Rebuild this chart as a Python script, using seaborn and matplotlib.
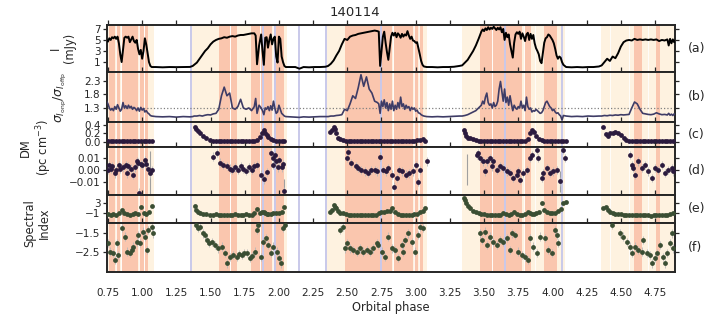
#recreating the 140114 orbital phase panel plot
#six stacked panels: flux, noise ratio, DM (wide + fine), spectral index (wide + fine)

import matplotlib
matplotlib.use("Agg")
import matplotlib.pyplot as plt
import seaborn as sns

sns.set_style("ticks")
plt.rcParams["font.family"] = ["DejaVu Sans"]

#flux + noise ratio share the same phase samples
phase = [0.74, 0.75, 0.76, 0.77, 0.78, 0.79, 0.80, 0.81, 0.82, 0.83,
         0.84, 0.85, 0.86, 0.87, 0.88, 0.89, 0.90, 0.91, 0.92, 0.93,
         0.94, 0.95, 0.96, 0.97, 0.98, 0.99, 1.00, 1.01, 1.02, 1.03,
         1.04, 1.05, 1.06, 1.07,
         1.10, 1.15, 1.20, 1.25, 1.30, 1.35,
         1.37, 1.38, 1.40, 1.42, 1.44, 1.46, 1.48, 1.50, 1.52, 1.54,
         1.56, 1.58, 1.60, 1.62, 1.64, 1.66, 1.68, 1.70, 1.72, 1.74,
         1.76, 1.78, 1.80, 1.82, 1.83, 1.84, 1.855, 1.87, 1.88, 1.89,
         1.90, 1.91, 1.92, 1.93, 1.94, 1.95, 1.96, 1.97, 1.98, 1.99,
         2.00, 2.01, 2.02, 2.03, 2.04, 2.05,
         2.08, 2.12, 2.15, 2.18, 2.22, 2.26, 2.30, 2.34,
         2.36, 2.38, 2.40, 2.42, 2.44, 2.46, 2.48, 2.50, 2.52, 2.54,
         2.56, 2.58, 2.60, 2.62, 2.64, 2.66, 2.68, 2.70, 2.72, 2.73,
         2.74, 2.75, 2.76, 2.77, 2.78, 2.79, 2.80, 2.81, 2.82, 2.83,
         2.84, 2.85, 2.86, 2.87, 2.88, 2.89, 2.90, 2.91, 2.92, 2.93,
         2.94, 2.95, 2.96, 2.97, 2.98, 2.99, 3.00, 3.01, 3.02, 3.03,
         3.04, 3.05, 3.06, 3.08,
         3.12, 3.16, 3.20, 3.24, 3.28, 3.32,
         3.34, 3.36, 3.38, 3.40, 3.42, 3.44, 3.46, 3.48, 3.49, 3.50,
         3.51, 3.52, 3.53, 3.54, 3.55, 3.56, 3.57, 3.58, 3.59, 3.60,
         3.61, 3.62, 3.63, 3.64, 3.65, 3.66, 3.67, 3.68, 3.69, 3.70,
         3.71, 3.72, 3.73, 3.74, 3.75, 3.76, 3.77, 3.78, 3.79, 3.80,
         3.81, 3.82, 3.83, 3.84, 3.85, 3.86, 3.87, 3.88, 3.89, 3.90,
         3.91, 3.92, 3.93, 3.94, 3.95, 3.96, 3.97, 3.98, 3.99, 4.00,
         4.01, 4.02, 4.03, 4.04, 4.05, 4.06, 4.07, 4.08, 4.10,
         4.14, 4.18, 4.22, 4.26, 4.30, 4.34,
         4.36, 4.38, 4.40, 4.42, 4.44, 4.46, 4.48, 4.50, 4.52, 4.54,
         4.56, 4.58, 4.60, 4.62, 4.64, 4.66, 4.68, 4.70, 4.72, 4.74,
         4.76, 4.78, 4.80, 4.82, 4.84, 4.85, 4.86, 4.87, 4.88, 4.89,
         4.90]

flux = [5.0, 4.7, 5.3, 5.0, 5.5, 5.3, 5.6, 5.2, 5.6, 4.4,
        2.4, 1.0, 3.2, 5.4, 5.6, 5.4, 5.6, 4.6, 5.1, 5.6,
        4.8, 4.5, 5.0, 3.4, 2.4, 3.2, 1.6, 3.0, 5.3, 4.2,
        2.6, 1.0, 0.3, 0.1,
        0.1, 0.05, 0.1, 0.08, 0.1, 0.12,
        0.3, 0.5, 0.9, 1.6, 2.3, 3.0, 3.5, 4.2, 4.7, 5.0,
        5.2, 5.3, 5.5, 5.4, 5.6, 5.7, 5.6, 5.8, 5.9, 5.9,
        6.0, 6.1, 6.2, 6.2, 5.8, 0.6, 4.0, 6.0, 3.0, 0.5,
        5.4, 5.5, 3.6, 5.0, 6.0, 4.2, 5.2, 5.6, 2.0, 0.9,
        5.6, 5.2, 2.0, 1.0, 0.3, 0.1,
        0.1, 0.1, -0.2, 0.1, 0.05, 0.1, 0.1, 0.15,
        0.3, 0.7, 1.3, 2.2, 3.0, 4.2, 5.2, 5.0, 5.6, 5.8,
        5.9, 6.1, 6.2, 6.3, 6.4, 6.5, 6.6, 6.7, 6.6, 6.5,
        0.3, 3.0, 5.6, 6.5, 4.5, 2.8, 1.4, 3.5, 5.6, 6.3,
        5.8, 6.3, 5.5, 6.2, 5.9, 5.4, 6.1, 5.6, 6.0, 5.8,
        6.6, 5.8, 5.2, 5.6, 4.9, 4.8, 4.5, 4.6, 3.5, 2.4,
        1.2, 0.5, 0.2, 0.1,
        0.1, 0.05, 0.1, 0.1, 0.15, 0.3,
        0.4, 0.9, 1.4, 2.2, 3.0, 4.0, 5.2, 6.5, 6.9, 6.6,
        7.1, 6.8, 7.3, 6.9, 7.2, 7.0, 7.4, 7.1, 6.8, 7.2,
        6.9, 7.3, 6.4, 7.0, 5.0, 6.3, 5.5, 6.0, 4.2, 3.0,
        1.8, 4.5, 6.0, 6.4, 6.1, 6.5, 5.2, 6.2, 5.6, 4.8,
        6.0, 6.3, 5.0, 6.1, 5.2, 5.9, 4.4, 3.5, 3.0, 2.4,
        1.2, 0.8, 2.6, 4.5, 5.3, 5.5, 6.0, 5.8, 5.4, 5.0,
        4.4, 3.4, 2.2, 1.6, 2.0, 1.8, 1.0, 0.5, 0.1,
        0.05, 0.1, 0.05, 0.1, 0.1, 0.2,
        0.4, 1.0, 1.6, 1.2, 2.0, 1.7, 2.6, 3.8, 4.6, 4.9,
        5.0, 4.9, 5.2, 5.0, 5.1, 5.0, 5.1, 5.0, 5.1, 5.0,
        5.1, 4.8, 5.0, 4.9, 5.1, 4.0, 5.2, 4.4, 5.1, 4.6,
        5.0]

noise_ratio = [1.55, 1.45, 1.30, 1.22, 1.28, 1.20, 1.35, 1.25, 1.42, 1.30,
               1.18, 1.25, 1.50, 1.30, 1.38, 1.28, 1.40, 1.30, 1.36, 1.25,
               1.32, 1.28, 1.20, 1.30, 1.18, 1.32, 1.22, 1.28, 1.15, 1.20,
               1.12, 1.08, 1.02, 1.00,
               0.98, 0.97, 0.98, 0.96, 0.98, 0.97,
               0.98, 1.00, 1.00, 1.02, 1.00, 1.03, 1.05, 1.04, 1.08, 1.10,
               1.25, 1.75, 2.07, 1.75, 1.85, 1.30, 1.25, 1.35, 1.62, 1.30,
               1.25, 1.30, 1.20, 1.35, 1.65, 1.10, 1.40, 1.30, 1.20, 1.05,
               1.30, 1.25, 1.35, 1.20, 1.38, 1.22, 1.55, 1.30, 1.10, 1.15,
               1.40, 1.25, 1.10, 1.05, 1.00, 0.98,
               0.97, 0.96, 0.95, 0.97, 0.96, 0.97, 0.98, 0.98,
               0.98, 1.00, 1.00, 1.02, 1.03, 1.05, 1.25, 1.20, 1.45, 1.75,
               1.65, 2.05, 2.53, 2.10, 2.45, 2.00, 1.85, 1.55, 1.50, 1.45,
               1.10, 1.55, 1.35, 1.60, 1.30, 1.50, 1.20, 1.45, 1.25, 1.55,
               1.20, 1.40, 1.25, 1.50, 1.30, 1.70, 1.35, 1.45, 1.25, 1.40,
               1.30, 1.35, 1.20, 1.32, 1.25, 1.30, 1.18, 1.22, 1.12, 1.10,
               1.05, 1.02, 1.00, 0.98,
               0.97, 0.98, 0.97, 0.98, 0.99, 1.00,
               1.00, 1.02, 1.05, 1.10, 1.15, 1.20, 1.30, 1.40, 1.55, 1.45,
               1.70, 1.85, 1.50, 1.40, 1.45, 1.30, 1.50, 1.35, 1.40, 1.55,
               2.00, 2.28, 1.90, 1.55, 2.00, 1.50, 1.70, 1.40, 1.75, 1.45,
               1.20, 1.40, 1.30, 1.25, 1.35, 1.30, 1.55, 1.30, 1.40, 1.20,
               1.70, 1.35, 1.25, 1.30, 1.15, 1.20, 1.18, 1.25, 1.20, 1.15,
               1.10, 1.12, 1.20, 1.35, 1.50, 1.55, 1.45, 1.35, 1.30, 1.20,
               1.25, 1.15, 1.10, 1.12, 1.05, 1.00, 0.85, 1.02, 1.00,
               0.98, 0.99, 0.98, 1.00, 0.99, 1.00,
               1.00, 1.02, 1.01, 1.03, 1.02, 1.04, 1.03, 1.05, 1.04, 1.05,
               1.06, 1.30, 1.52, 1.45, 1.25, 1.10, 1.08, 1.06, 1.05, 1.07,
               1.12, 1.08, 1.05, 1.06, 1.04, 1.10, 1.03, 1.07, 1.02, 1.08,
               1.05]

#wide-band fits (panels c and e) share phases
wide_phase = [0.75, 0.77, 0.79, 0.81, 0.83, 0.85, 0.87, 0.89, 0.91, 0.93,
              0.95, 0.97, 0.99, 1.01, 1.03, 1.05, 1.07,
              1.385, 1.395, 1.405, 1.42, 1.445, 1.47, 1.495, 1.52, 1.54, 1.56,
              1.58, 1.60, 1.62, 1.64, 1.66, 1.68, 1.70, 1.72, 1.74, 1.76,
              1.78, 1.80, 1.82, 1.84, 1.86, 1.875, 1.89, 1.90, 1.91, 1.92,
              1.94, 1.96, 1.98, 2.00, 2.02, 2.04,
              2.37, 2.385, 2.40, 2.41, 2.42, 2.435, 2.45, 2.47, 2.49,
              2.51, 2.53, 2.55, 2.57, 2.59, 2.61, 2.63, 2.65, 2.67, 2.69,
              2.71, 2.73, 2.75, 2.77, 2.79, 2.81, 2.83, 2.85, 2.87, 2.89,
              2.91, 2.93, 2.95, 2.97, 2.99, 3.01, 3.03, 3.05, 3.07,
              3.35, 3.36, 3.37, 3.385, 3.40, 3.42, 3.44, 3.46, 3.48,
              3.50, 3.52, 3.54, 3.56, 3.58, 3.60, 3.62, 3.64, 3.66, 3.68,
              3.70, 3.72, 3.74, 3.76, 3.78, 3.80, 3.82,
              3.835, 3.85, 3.865, 3.88, 3.90, 3.92,
              3.94, 3.96, 3.98, 4.00, 4.02, 4.04, 4.06, 4.08, 4.10,
              4.37, 4.39, 4.405, 4.42, 4.44, 4.46, 4.48, 4.50, 4.52, 4.54,
              4.56, 4.58, 4.60, 4.62, 4.64, 4.66, 4.68, 4.70, 4.72, 4.74,
              4.76, 4.78, 4.80, 4.82, 4.84, 4.86, 4.88]

dm_wide = [0.02, 0.01, 0.02, 0.01, 0.02, 0.01, 0.02, 0.01, 0.02, 0.01,
           0.02, 0.01, 0.02, 0.01, 0.02, 0.01, 0.02,
           0.36, 0.30, 0.26, 0.20, 0.13, 0.09, 0.05, 0.03, 0.02, 0.02,
           0.01, 0.02, 0.01, 0.02, 0.01, 0.02, 0.01, 0.02, 0.01, 0.02,
           0.01, 0.02, 0.03, 0.05, 0.12, 0.20, 0.28, 0.22, 0.16, 0.12,
           0.07, 0.04, 0.03, 0.02, 0.02, 0.02,
           0.24, 0.28, 0.36, 0.30, 0.20, 0.10, 0.07, 0.05, 0.03,
           0.02, 0.01, 0.02, 0.02, 0.01, 0.02, 0.01, 0.02, 0.02, 0.01,
           0.02, 0.01, 0.02, 0.02, 0.01, 0.02, 0.01, 0.02, 0.02, 0.01,
           0.02, 0.01, 0.02, 0.02, 0.03, 0.04, 0.05, 0.06, 0.03,
           0.28, 0.20, 0.13, 0.09, 0.10, 0.07, 0.05, 0.03, 0.02,
           0.02, 0.01, 0.02, 0.01, 0.02, 0.02, 0.01, 0.02, 0.01, 0.02,
           0.02, 0.01, 0.02, 0.01, 0.02, 0.03, 0.06,
           0.22, 0.28, 0.24, 0.13, 0.07, 0.05,
           0.03, 0.02, 0.02, 0.01, 0.02, 0.02, 0.01, 0.02, 0.02,
           0.34, 0.18, 0.15, 0.20, 0.22, 0.23, 0.21, 0.16, 0.10, 0.05,
           0.03, 0.02, 0.02, 0.01, 0.02, 0.02, 0.01, 0.02, 0.01, 0.02,
           0.02, 0.01, 0.02, 0.01, 0.02, 0.02, 0.01]

si_wide = [-1.6, -1.8, -1.5, -1.7, -1.2, 0.2, -1.0, -1.6, -1.8, -1.5,
           -1.2, -1.3, 1.5, -1.0, -1.4, -0.8, 1.9,
           1.9, 0.2, -0.7, -1.0, -1.3, -1.5, -1.7, -1.8, -1.6, -1.9,
           -1.7, -1.8, -2.0, -1.7, -1.8, -1.6, -1.9, -1.7, -1.8, -1.6,
           -1.8, -1.7, -1.2, 0.5, -1.0, -0.6, -0.8, -1.2, -1.4, -1.5,
           -1.3, -1.2, -1.0, -0.9, -0.5, 1.5,
           -0.5, 0.2, 2.2, 1.5, 0.9, -0.2, -0.9, -1.2, -1.5,
           -1.7, -1.8, -1.9, -1.8, -2.0, -1.8, -1.9, -1.7, -1.9, -1.8,
           -2.0, -1.2, -0.5, -0.8, -0.4, -0.2, 0.9, -0.6, -1.4, -1.7,
           -1.8, -1.9, -1.7, -1.8, -1.6, -1.3, -0.6, -0.2, 0.9,
           5.1, 4.2, 3.0, 1.8, 0.9, -0.2, -0.8, -1.2, -1.5,
           -1.6, -1.7, -1.8, -1.7, -1.9, -1.8, -1.7, -0.9, -1.6, -1.8,
           -1.5, -0.6, -1.6, -1.8, -1.7, -1.4, -0.6,
           -1.0, -1.4, -1.5, -1.2, -0.5, 3.1,
           0.2, -0.8, -1.0, -1.2, -0.9, -0.4, 0.5, 2.9, 3.3,
           0.9, 1.5, 0.2, -0.5, -1.0, -1.3, -1.5, -1.6, -1.7, -1.8,
           -1.8, -1.9, -1.8, -2.0, -1.9, -1.8, -2.0, -1.9, -2.1, -1.9,
           -2.0, -1.8, -2.0, -1.9, -1.8, -1.6, -1.2]

#fine DM (panel d)
dm_phase = [0.75, 0.76, 0.77, 0.78, 0.80, 0.81, 0.83, 0.84, 0.86, 0.88,
            0.89, 0.90, 0.92, 0.93, 0.95, 0.96, 0.97, 0.98, 0.99, 1.00,
            1.02, 1.03, 1.04, 1.055, 1.07,
            1.52, 1.545, 1.57, 1.59, 1.62, 1.64, 1.66, 1.68, 1.70, 1.72,
            1.74, 1.76, 1.78, 1.80, 1.82, 1.84, 1.87, 1.89, 1.91, 1.94,
            1.955, 1.96, 1.97, 1.98, 1.99, 2.00, 2.02, 2.03, 2.04,
            2.495, 2.507, 2.53, 2.56, 2.58, 2.60, 2.63, 2.65, 2.67, 2.70,
            2.72, 2.74, 2.76, 2.78, 2.80, 2.83, 2.84, 2.86, 2.88, 2.90,
            2.93, 2.95, 2.98, 3.00, 3.02, 3.03, 3.08,
            3.446, 3.458, 3.470, 3.495, 3.507, 3.519, 3.543, 3.556, 3.568, 3.592,
            3.617, 3.641, 3.665, 3.690, 3.714, 3.738, 3.751, 3.763, 3.787, 3.812,
            3.836, 3.848, 3.885, 3.897, 3.921, 3.934, 3.958, 3.982, 4.007, 4.031,
            4.055, 4.080, 4.092,
            4.567, 4.579, 4.592, 4.604, 4.628, 4.653, 4.677, 4.701, 4.726, 4.750,
            4.774, 4.799, 4.823, 4.847, 4.872, 4.884]

dm_fine = [0.000, 0.004, 0.001, 0.003, -0.003, 0.000, 0.004, 0.001, 0.002, 0.004,
           -0.003, 0.003, 0.001, -0.004, 0.002, 0.007, 0.006, -0.019, 0.005, 0.004,
           0.008, 0.005, 0.001, -0.003, 0.000,
           0.011, 0.014, 0.006, 0.004, 0.003, 0.001, 0.000, 0.002, 0.000, 0.003,
           0.001, -0.001, 0.002, 0.000, 0.003, 0.004, -0.004, -0.008, -0.002, 0.014,
           0.010, 0.004, 0.012, 0.007, 0.002, 0.008, 0.002, 0.005, -0.018,
           0.010, 0.015, 0.0055, 0.003, 0.0014, 0.0, -0.0014, -0.0028, 0.0, 0.0,
           -0.0014, 0.011, 0.0, -0.0014, 0.0014, -0.004, -0.014, -0.007, 0.0, -0.0014,
           -0.004, -0.003, -0.0014, 0.004, -0.010, 0.0, 0.0069,
           0.0125, 0.0139, 0.0097, 0.0069, -0.0014, 0.0069, 0.0097, 0.0028, 0.0069, 0.0,
           0.0028, 0.0014, -0.0014, -0.0028, -0.0069, -0.0042, -0.0014, -0.0083, -0.0028, 0.0,
           0.0097, 0.0125, 0.0167, 0.0097, -0.0069, -0.0028, 0.0014, -0.0028, -0.0014, 0.0,
           -0.0097, 0.0167, 0.0097,
           0.0125, 0.0042, 0.0014, -0.0042, 0.0069, 0.0014, 0.0042, -0.0014, -0.0069, 0.0014,
           0.0, 0.0042, -0.0028, 0.0, 0.0014, -0.0014]

#a few very uncertain DM fits (long grey bars)
dm_long_phase = [1.06, 2.04, 3.375, 4.055]
dm_long_val = [-0.003, -0.018, 0.0, -0.0097]
dm_long_err = [0.019, 0.010, 0.013, 0.009]

#fine spectral index (panel f)
si_phase = [0.752, 0.764, 0.789, 0.801, 0.813, 0.825, 0.85, 0.874, 0.886, 0.911,
            0.923, 0.935, 0.96, 0.972, 0.984, 1.003, 1.02, 1.033, 1.045, 1.069,
            1.081,
            1.393, 1.41, 1.422, 1.447, 1.459, 1.471, 1.491, 1.508, 1.532, 1.557,
            1.581, 1.606, 1.618, 1.642, 1.666, 1.691, 1.71, 1.727, 1.745, 1.764,
            1.788, 1.805, 1.825, 1.837, 1.849, 1.866, 1.886, 1.905, 1.922, 1.939,
            1.959, 1.983, 2.003, 2.012, 2.032, 2.044,
            2.446, 2.471, 2.483, 2.50, 2.52, 2.544, 2.568, 2.593, 2.617, 2.641,
            2.666, 2.69, 2.714, 2.727, 2.751, 2.775, 2.80, 2.824, 2.849, 2.873,
            2.897, 2.91, 2.922, 2.946, 2.97, 2.995, 3.019, 3.031, 3.051,
            3.47, 3.482, 3.507, 3.519, 3.543, 3.568, 3.592, 3.617, 3.641, 3.665,
            3.69, 3.702, 3.726, 3.751, 3.775, 3.799, 3.824, 3.836, 3.86, 3.885,
            3.909, 3.946, 3.97, 3.994, 4.019, 4.031, 4.043,
            4.433, 4.494, 4.518, 4.543, 4.567, 4.579, 4.604, 4.628, 4.653, 4.665,
            4.689, 4.713, 4.726, 4.75, 4.762, 4.787, 4.811, 4.823, 4.835, 4.86,
            4.872, 4.884]

si_fine = [-2.04, -2.48, -2.57, -2.92, -2.04, -2.66, -1.25, -1.69, -2.48, -2.57,
           -2.40, -2.22, -1.96, -1.61, -2.04, -1.43, -1.69, -2.40, -1.34, -1.17,
           -1.52,
           -1.08, -1.25, -1.17, -1.52, -1.61, -1.87, -2.04, -1.96, -2.13, -2.31,
           -2.22, -2.57, -3.10, -2.75, -2.66, -2.75, -2.62, -2.66, -2.55, -2.57,
           -2.83, -2.70, -2.48, -1.34, -1.08, -2.75, -1.96, -1.78, -2.13, -2.57,
           -2.22, -2.48, -2.83, -3.10, -1.25, -1.08,
           -1.34, -1.17, -2.31, -2.04, -2.31, -2.40, -2.48, -2.31, -2.48, -2.40,
           -2.48, -2.31, -2.04, -2.13, -2.48, -2.75, -1.69, -2.31, -2.40, -2.83,
           -2.13, -2.48, -1.87, -1.52, -1.96, -2.48, -1.61, -1.17, -1.25,
           -1.52, -1.87, -1.43, -2.13, -1.69, -1.96, -2.13, -1.87, -1.96, -1.78,
           -2.40, -1.52, -1.61, -2.48, -2.66, -2.75, -2.92, -1.78, -2.22, -2.57,
           -1.69, -1.78, -2.40, -2.57, -1.34, -1.61, -2.04,
           -1.08, -1.52, -1.69, -1.96, -2.22, -2.57, -2.22, -2.40, -2.48, -1.87,
           -2.57, -2.66, -3.10, -2.83, -2.57, -2.13, -2.75, -3.10, -2.57, -2.04,
           -1.52, -2.31]

#background shading (orbital phase ranges)
light_spans = [(0.74, 1.085), (1.357, 2.06), (2.355, 3.085), (3.34, 4.09), (4.355, 4.90)]
salmon_spans = [(0.755, 0.80), (0.812, 0.84), (0.85, 0.97), (0.98, 1.012), (1.02, 1.04),
                (1.56, 1.64), (1.652, 1.69), (1.795, 1.86), (1.868, 1.95), (1.958, 2.04),
                (2.48, 2.83), (2.838, 2.98), (2.99, 3.018), (3.025, 3.05),
                (3.47, 3.555), (3.562, 3.78), (3.80, 3.84), (3.94, 4.03),
                (4.595, 4.655), (4.76, 4.79)]
gap_lines = [0.806, 0.845, 0.975, 1.016, 1.646, 1.864, 1.954, 2.834, 2.985, 3.021,
             3.558, 3.79, 3.875, 4.42, 4.56, 4.70]
lavender_lines = [1.357, 1.885, 1.975, 2.147, 2.344, 2.75, 3.65, 4.07]

xticks = [0.75, 1.00, 1.25, 1.50, 1.75, 2.00, 2.25, 2.50, 2.75, 3.00, 3.25, 3.50, 3.75, 4.00, 4.25, 4.50, 4.75]
xtick_labels = ["0.75", "1.00", "1.25", "1.50", "1.75", "2.00", "2.25", "2.50", "2.75",
                "3.00", "3.25", "3.50", "3.75", "4.00", "4.25", "4.50", "4.75"]

LIGHT = "#fef2e0"
SALMON = "#fac6ae"
LAVENDER = "#c9c9ea"
DM_COL = "#2b1b3e"
SI_COL = "#3a4e33"
ERR_COL = "#b8b8b8"

fig = plt.figure(figsize=(7.10, 3.21), dpi=100)
gs = fig.add_gridspec(6, 1, height_ratios=[47, 50, 25, 48, 28, 49], hspace=0,
                      left=0.1507, right=0.9507, top=0.922, bottom=0.153)
axes = []
for i in range(6):
    axes.append(fig.add_subplot(gs[i], sharex=axes[0] if axes else None))

for ax in axes:
    for a, b in light_spans:
        ax.axvspan(a, b, color=LIGHT, lw=0, zorder=0)
    for a, b in salmon_spans:
        ax.axvspan(a, b, color=SALMON, lw=0, zorder=0)
    for g in gap_lines:
        ax.axvline(g, color="white", lw=0.6, zorder=0.5)
    for v in lavender_lines:
        ax.axvline(v, color=LAVENDER, lw=1.4, zorder=0.6)

#(a) flux
sns.lineplot(x=phase, y=flux, ax=axes[0], color="black", linewidth=1.4,
             estimator=None, sort=False, zorder=3)
#(b) noise ratio
axes[1].axhline(1.3, color="grey", ls=":", lw=0.9, zorder=2)
sns.lineplot(x=phase, y=noise_ratio, ax=axes[1], color="#3e3c66", linewidth=1.2,
             estimator=None, sort=False, zorder=3)

#(c) wide DM
axes[2].errorbar(wide_phase, dm_wide, yerr=0.012, xerr=0.006, fmt="none",
                 ecolor=ERR_COL, elinewidth=0.6, zorder=2)
sns.scatterplot(x=wide_phase, y=dm_wide, ax=axes[2], color=DM_COL, s=12, linewidth=0, zorder=3)

#(d) fine DM
axes[3].errorbar(dm_long_phase, dm_long_val, yerr=dm_long_err, fmt="none",
                 ecolor="#a0a0a0", elinewidth=0.8, zorder=2)
axes[3].errorbar(dm_phase, dm_fine, yerr=0.0035, xerr=0.008, fmt="none",
                 ecolor=ERR_COL, elinewidth=0.6, zorder=2)
sns.scatterplot(x=dm_phase, y=dm_fine, ax=axes[3], color=DM_COL, s=12, linewidth=0, zorder=3)

#(e) wide spectral index
axes[4].errorbar(wide_phase, si_wide, yerr=0.3, xerr=0.006, fmt="none",
                 ecolor=ERR_COL, elinewidth=0.6, zorder=2)
sns.scatterplot(x=wide_phase, y=si_wide, ax=axes[4], color=SI_COL, s=12, linewidth=0, zorder=3)

#(f) fine spectral index
axes[5].errorbar(si_phase, si_fine, yerr=0.22, xerr=0.008, fmt="none",
                 ecolor=ERR_COL, elinewidth=0.6, zorder=2)
sns.scatterplot(x=si_phase, y=si_fine, ax=axes[5], color=SI_COL, s=12, linewidth=0, zorder=3)

ylims = [(-0.8, 7.7), (0.78, 2.63), (-0.12, 0.47), (-0.021, 0.019), (-5.0, 6.2), (-3.55, -0.97)]
yticks = [[1, 3, 5, 7], [1.3, 1.8, 2.3], [0.0, 0.2, 0.4], [-0.01, 0.0, 0.01], [-1, 3], [-1.5, -2.5]]
ytick_labels = [["1", "3", "5", "7"], ["1.3", "1.8", "2.3"], ["0.0", "0.2", "0.4"],
                ["\u22120.01", "0.00", "0.01"], ["\u22121", "3"], ["\u22121.5", "\u22122.5"]]
panel_tags = ["(a)", "(b)", "(c)", "(d)", "(e)", "(f)"]

for i, ax in enumerate(axes):
    ax.set_xlim(0.743, 4.896)
    ax.set_ylim(*ylims[i])
    ax.set_yticks(yticks[i])
    ax.set_yticklabels(ytick_labels[i], fontsize=7.5)
    ax.set_ylabel("")
    ax.set_xlabel("")
    for sp in ax.spines.values():
        sp.set_linewidth(1.4)
        sp.set_visible(True)
    ax.tick_params(axis="y", left=True, right=True, direction="out", length=3, width=0.9, pad=1.5)
    ax.tick_params(axis="x", bottom=False, top=True, direction="out", length=3.5, width=0.9,
                   labeltop=False, labelbottom=(i == 5), pad=8)
    ax.text(1.022, 0.5, panel_tags[i], transform=ax.transAxes, va="center", ha="left", fontsize=9)

axes[5].set_xticks(xticks)
axes[5].set_xticklabels(xtick_labels, fontsize=7.5)
axes[5].set_xlabel("Orbital phase", fontsize=8.3, labelpad=2)

fig.text(0.088, 0.85, "I\n(mJy)", rotation=90, ha="center", va="center", fontsize=8.3, multialignment="center")
fig.text(0.085, 0.695, r"$\sigma_{I_{\rm onp}}/\sigma_{I_{\rm offp}}$", rotation=90, ha="center", va="center", fontsize=9)
fig.text(0.051, 0.54, "DM\n(pc cm$^{-3}$)", rotation=90, ha="center", va="center", fontsize=8.3, multialignment="center")
fig.text(0.052, 0.305, "Spectral\nIndex", rotation=90, ha="center", va="center", fontsize=8.3, multialignment="center")
fig.text(0.5, 0.962, "140114", ha="center", va="center", fontsize=9.5)

fig.savefig("out.png", dpi=100)
plt.close(fig)
